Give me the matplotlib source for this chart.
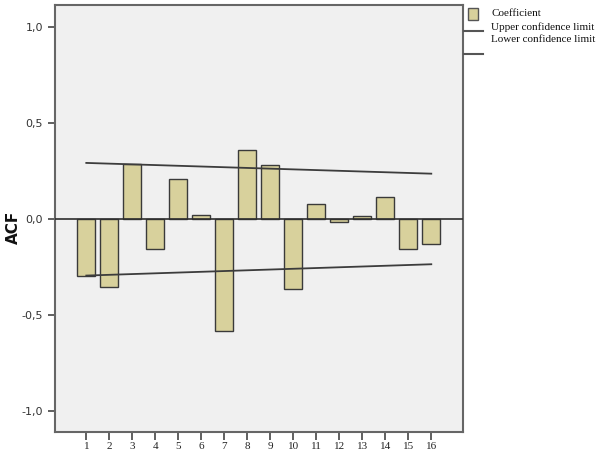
import matplotlib
matplotlib.use('Agg')
import matplotlib.pyplot as plt
from matplotlib.lines import Line2D
from matplotlib.patches import Rectangle

lags = list(range(1, 17))
acf = [-0.295, -0.352, 0.285, -0.156, 0.21, 0.022, -0.583, 0.358,
       0.283, -0.365, 0.078, -0.017, 0.017, 0.115, -0.155, -0.132]
conf_lags = [1, 16]
upper = [0.292, 0.236]
lower = [-0.295, -0.236]
yticks = [-1.0, -0.5, 0.0, 0.5, 1.0]
ytick_labels = ['-1,0', '-0,5', '0,0', '0,5', '1,0']

bar_col = '#d8d19c'
edge_col = '#3a3a3a'
line_col = '#3c3c3c'

fig = plt.figure(figsize=(6, 4.53), dpi=100)
ax = fig.add_axes([0.0917, 0.0464, 0.680, 0.9426])
ax.set_facecolor('#f0f0f0')

ax.bar(lags, acf, width=0.78, color=bar_col, edgecolor=edge_col, linewidth=1.0, zorder=2)
ax.axhline(0, color='#2e2e2e', linewidth=1.2, zorder=3)
ax.plot(conf_lags, upper, color=line_col, linewidth=1.3, zorder=4)
ax.plot(conf_lags, lower, color=line_col, linewidth=1.3, zorder=4)

ax.set_xlim(-0.36, 17.38)
ax.set_ylim(-1.11, 1.115)
ax.set_xticks(lags)
ax.set_xticklabels([str(l) for l in lags], fontsize=8, family='Liberation Serif', color='#222222')
ax.set_yticks(yticks)
ax.set_yticklabels(ytick_labels, fontsize=8, color='#333333')
ax.tick_params(axis='both', direction='out', length=5, width=1.2, color='#444444')
ax.tick_params(axis='x', length=6, pad=1.5)
for s in ax.spines.values():
    s.set_color('#666666')
    s.set_linewidth(1.5)

fig.text(0.022, 0.497, 'ACF', rotation=90, fontsize=11, fontweight='bold',
         ha='center', va='center', color='#111111')

# legend drawn by hand to keep the SPSS layout
fig.patches.append(Rectangle((468 / 600, 1 - 20 / 453), 10 / 600, 12 / 453,
                             transform=fig.transFigure, facecolor=bar_col,
                             edgecolor='#555555', linewidth=1.0))
fig.lines.append(Line2D([464 / 600, 483 / 600], [1 - 30.7 / 453] * 2,
                        transform=fig.transFigure, color='#555555', linewidth=1.5))
fig.lines.append(Line2D([464 / 600, 483 / 600], [1 - 54.3 / 453] * 2,
                        transform=fig.transFigure, color='#555555', linewidth=1.5))
leg_items = ['Coefficient', 'Upper confidence limit', 'Lower confidence limit']
for i, t in enumerate(leg_items):
    fig.text(491 / 600, 1 - (14 + 13 * i) / 453, t, fontsize=8,
             family='Liberation Serif', va='center', ha='left', color='#111111')

fig.savefig('out.png', dpi=100)
